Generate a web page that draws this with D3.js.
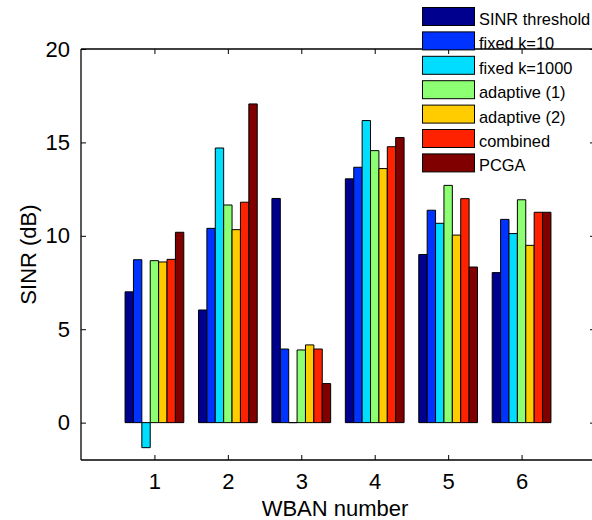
<!DOCTYPE html>
<html>
<head>
<meta charset="utf-8">
<script src="https://cdn.jsdelivr.net/npm/d3@7"></script>
<style>
  html, body { margin: 0; padding: 0; background: #fff; }
  svg { display: block; }
  text { font-family: "Liberation Sans", Arial, sans-serif; fill: #000; }
</style>
</head>
<body>
<svg id="chart" width="592" height="520"></svg>
<script>
// ---- data ----
const categories = [1, 2, 3, 4, 5, 6];
const seriesNames = ["SINR threshold", "fixed k=10", "fixed k=1000", "adaptive (1)", "adaptive (2)", "combined", "PCGA"];
const sinrThreshold = [7.0, 6.03, 12.0, 13.05, 9.0, 8.03];
const fixedK10      = [8.72, 10.4, 3.94, 13.67, 11.37, 10.88];
const fixedK1000    = [-1.34, 14.7, 0.0, 16.17, 10.67, 10.12];
const adaptive1     = [8.67, 11.65, 3.89, 14.56, 12.7, 11.93];
const adaptive2     = [8.6, 10.33, 4.16, 13.6, 10.04, 9.49];
const combined      = [8.74, 11.8, 3.94, 14.77, 11.99, 11.26];
const pcga          = [10.19, 17.06, 2.09, 15.26, 8.33, 11.26];
const yTicks = [0, 5, 10, 15, 20];
const xTicks = [1, 2, 3, 4, 5, 6];
const colors = ["#00008f", "#0033ff", "#00ddff", "#8cff73", "#ffcc00", "#ff2200", "#800000"];

const seriesValues = [sinrThreshold, fixedK10, fixedK1000, adaptive1, adaptive2, combined, pcga];

// ---- layout ----
const svg = d3.select("#chart");
const mLeft = 81, mRight = 595, mTop = 49, mBottom = 460;
const x = d3.scaleLinear().domain([0, 7]).range([mLeft, mRight]);
const y = d3.scaleLinear().domain([-2, 20]).range([mBottom, mTop]);

const nS = seriesNames.length;
const groupW = 0.8;
const barW = groupW / nS;

// bars
const gBars = svg.append("g");
seriesValues.forEach((vals, s) => {
  gBars.selectAll(null)
    .data(vals.map((v, i) => ({ v, c: categories[i] })))
    .enter()
    .append("path")
    .attr("d", d => {
      const x0 = x(d.c - groupW / 2 + s * barW);
      const x1 = x(d.c - groupW / 2 + (s + 1) * barW);
      const y0 = y(0), y1 = y(d.v);
      return `M${x0},${y0}H${x1}V${y1}H${x0}Z`;
    })
    .attr("fill", colors[s])
    .attr("stroke", "#000")
    .attr("stroke-width", 1)
    .attr("stroke-linejoin", "miter");
});

// axes
const axisL = d3.axisLeft(y).tickValues(yTicks).tickSize(-5).tickPadding(11).tickFormat(d3.format("d"));
const axisR = d3.axisRight(y).tickValues(yTicks).tickSize(-5).tickFormat("");
const axisB = d3.axisBottom(x).tickValues(xTicks).tickSize(-5).tickPadding(13).tickFormat(d3.format("d"));
const axisT = d3.axisTop(x).tickValues(xTicks).tickSize(-5).tickFormat("");

function style(g) {
  g.selectAll("path.domain").attr("stroke", "#000").attr("stroke-width", 1.3);
  g.selectAll(".tick line").attr("stroke", "#000").attr("stroke-width", 1);
  g.selectAll(".tick text").style("font-size", "22px").style("font-family", '"Liberation Sans", Arial, sans-serif').attr("fill", "#000");
}

svg.append("g").attr("transform", `translate(${mLeft},0)`).call(axisL).call(style)
  .call(g => g.select("path.domain").attr("d", `M0,${mTop}V${mBottom}`));
svg.append("g").attr("transform", `translate(${mRight},0)`).call(axisR).call(style)
  .call(g => g.select("path.domain").attr("d", `M0,${mTop}V${mBottom}`));
svg.append("g").attr("transform", `translate(0,${mBottom})`).call(axisB).call(style)
  .call(g => g.select("path.domain").attr("d", `M${mLeft},0H${mRight}`));
svg.append("g").attr("transform", `translate(0,${mTop})`).call(axisT).call(style)
  .call(g => g.select("path.domain").attr("d", `M${mLeft},0H${mRight}`));

// axis labels
svg.append("text")
  .attr("x", (mLeft + mRight) / 2 - 3)
  .attr("y", 516)
  .attr("text-anchor", "middle")
  .style("font-size", "22px")
  .text("WBAN number");

svg.append("text")
  .attr("transform", `translate(36,${(mTop + mBottom) / 2}) rotate(-90)`)
  .attr("text-anchor", "middle")
  .style("font-size", "22px")
  .text("SINR (dB)");

// legend
const legend = svg.append("g");
seriesNames.forEach((name, i) => {
  const ty = 7.5 + i * 24.4;
  legend.append("rect")
    .attr("x", 422.5).attr("y", ty)
    .attr("width", 52).attr("height", 18)
    .attr("fill", colors[i]).attr("stroke", "#000").attr("stroke-width", 1);
  legend.append("text")
    .attr("x", 479).attr("y", ty + 17.5)
    .style("font-size", "16.4px")
    .text(name);
});
</script>
</body>
</html>
